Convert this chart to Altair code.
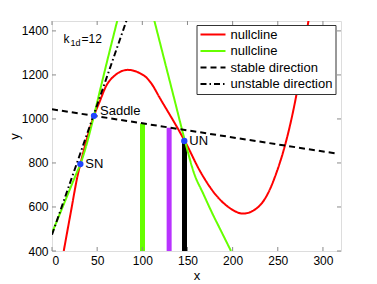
import altair as alt
import pandas as pd

# ---- data ----
red_x = [13, 21, 28.8, 31.4, 46.5, 52.8, 60.1, 69.4, 84, 95.2, 106, 110.4, 119, 139.8, 147,
         165, 180.4, 195.2, 211.8, 228.4, 239.5, 247.6, 258, 269, 284]
red_y = [400, 580, 751, 795, 1015, 1079, 1151, 1197, 1223, 1212, 1182, 1159, 1098, 953, 900,
         755, 660, 600, 570, 600, 665, 745, 880, 1075, 1447]

green_left_x = [0, 10.3, 26.9, 31.4, 46.5, 50.2, 61.2, 72.3]
green_left_y = [482, 585, 751, 795, 1015, 1079, 1265, 1447]
green_right_x = [113.3, 125.1, 136.2, 147.2, 157.5, 167.5, 176.8, 187.8, 198.2]
green_right_y = [1447, 1257, 1078, 900, 751, 660, 577, 486, 400]

stable_x = [0, 316]
stable_y = [1044, 842]
unstable_x = [0, 82.5]
unstable_y = [474, 1447]

pt_names = ["SN", "Saddle", "UN"]
pt_x = [31.4, 46.5, 146.5]
pt_y = [795, 1014, 900]

bar_names = ["b1", "b2", "b3"]
bar_x = [100.2, 129.7, 146.7]
bar_top = [979, 960, 900]

x_ticks = [0, 50, 100, 150, 200, 250, 300]
y_ticks = [400, 600, 800, 1000, 1200, 1400]

series_keys = ["n1", "n2", "s", "u"]
series_labels = ["nullcline", "nullcline", "stable direction", "unstable direction"]

# ---- styles ----
FONT = "Liberation Sans"
GRAY = "#8a8a8a"
series_colors = ["#ff0000", "#66ff00", "#000000", "#000000"]
series_dashes = [[1, 0], [1, 0], [6, 4], [6, 3, 1.5, 3]]
bar_colors = ["#66ff00", "#b833ff", "#000000"]
W, H = 289, 230

rows = []
for xs, ys, s, b in [(red_x, red_y, "n1", "r"), (green_left_x, green_left_y, "n2", "gl"),
                     (green_right_x, green_right_y, "n2", "gr"), (stable_x, stable_y, "s", "s"),
                     (unstable_x, unstable_y, "u", "u")]:
    for x, y in zip(xs, ys):
        rows.append({"x": x, "y": y, "series": s, "branch": b})
lines_df = pd.DataFrame(rows)
pts_df = pd.DataFrame({"x": pt_x, "y": pt_y, "name": pt_names})
bars_df = pd.DataFrame({"x": bar_x, "y": bar_top, "bar": bar_names})
xt_df = pd.DataFrame({"x": x_ticks})
yt_df = pd.DataFrame({"y": y_ticks})

xscale = alt.Scale(domain=[0, 320], nice=False, zero=False)
yscale = alt.Scale(domain=[400, 1445], nice=False, zero=False)
xaxis = alt.Axis(values=x_ticks, title="x", domain=False, ticks=False, grid=False, format="d",
                 labelFontSize=12, labelPadding=4, labelFont=FONT, labelColor="black",
                 titleFont=FONT, titleFontSize=13, titleFontWeight="normal", titlePadding=3,
                 titleColor="black")
yaxis = alt.Axis(values=y_ticks, title="y", domain=False, ticks=False, grid=False, format="d",
                 labelFontSize=12, labelPadding=4, labelFont=FONT, labelColor="black",
                 titleFont=FONT, titleFontSize=13, titleFontWeight="normal", titlePadding=0,
                 titleColor="black")
X = alt.X("x:Q", scale=xscale, axis=xaxis)
Y = alt.Y("y:Q", scale=yscale, axis=yaxis)

label_map = "{" + ",".join(f"'{k}':'{v}'" for k, v in zip(series_keys, series_labels)) + "}"
legend = alt.Legend(title=None, orient="none", legendX=144.5, legendY=4, direction="vertical",
                    symbolType="stroke", symbolSize=625, symbolStrokeWidth=2, clipHeight=13,
                    labelFont=FONT, labelFontSize=13, labelColor="black", labelOffset=4,
                    labelExpr=label_map + "[datum.label]", labelLimit=300,
                    strokeColor="#333333", fillColor="white", padding=3, rowPadding=2.5)

bars = alt.Chart(bars_df).mark_rule(strokeWidth=5).encode(
    x=X, y=Y, y2=alt.value(H),
    stroke=alt.Stroke("bar:N", scale=alt.Scale(domain=bar_names, range=bar_colors), legend=None))

lines = alt.Chart(lines_df).mark_line(interpolate="monotone", strokeWidth=2, clip=True).encode(
    x=X, y=Y, detail="branch:N",
    color=alt.Color("series:N", scale=alt.Scale(domain=series_keys, range=series_colors), legend=legend),
    strokeDash=alt.StrokeDash("series:N", scale=alt.Scale(domain=series_keys, range=series_dashes), legend=legend),
)

points = alt.Chart(pts_df).mark_circle(size=40, color="#1f45ff", opacity=1).encode(x=X, y=Y)
labels_mid = alt.Chart(pts_df).transform_filter("datum.name != 'Saddle'").mark_text(
    align="left", baseline="middle", dx=5, font=FONT, fontSize=13, color="black").encode(x=X, y=Y, text="name:N")
labels_up = alt.Chart(pts_df).transform_filter("datum.name == 'Saddle'").mark_text(
    align="left", baseline="middle", dx=6, dy=-5, font=FONT, fontSize=13, color="black").encode(x=X, y=Y, text="name:N")

tick_len = 4
t_bottom = alt.Chart(xt_df).mark_rule(color=GRAY, strokeWidth=1).encode(x=X, y=alt.value(H), y2=alt.value(H - tick_len))
t_top = alt.Chart(xt_df).mark_rule(color=GRAY, strokeWidth=1).encode(x=X, y=alt.value(0), y2=alt.value(tick_len))
t_left = alt.Chart(yt_df).mark_rule(color=GRAY, strokeWidth=1).encode(y=Y, x=alt.value(0), x2=alt.value(tick_len))
t_right = alt.Chart(yt_df).mark_rule(color=GRAY, strokeWidth=1).encode(y=Y, x=alt.value(W), x2=alt.value(W - tick_len))

one = pd.DataFrame({"d": [0]})
k_main = alt.Chart(one).mark_text(align="left", baseline="alphabetic", font=FONT, fontSize=12, color="black").encode(
    text=alt.value("k"), x=alt.value(11.5), y=alt.value(21.5))
k_sub = alt.Chart(one).mark_text(align="left", baseline="alphabetic", font=FONT, fontSize=9, color="black").encode(
    text=alt.value("1d"), x=alt.value(18.5), y=alt.value(25))
k_rest = alt.Chart(one).mark_text(align="left", baseline="alphabetic", font=FONT, fontSize=12, color="black").encode(
    text=alt.value("=12"), x=alt.value(29.5), y=alt.value(21.5))

chart = alt.layer(
    bars, lines, points, labels_mid, labels_up, t_bottom, t_top, t_left, t_right, k_main, k_sub, k_rest
).properties(
    width=W, height=H,
    padding={"left": 44, "top": 13, "right": 28, "bottom": 32},
    autosize=alt.AutoSizeParams(type="none"),
).configure_view(stroke=GRAY, strokeWidth=1).configure(background="white")

chart.save("out.html", embed_options={"renderer": "svg", "actions": False})
